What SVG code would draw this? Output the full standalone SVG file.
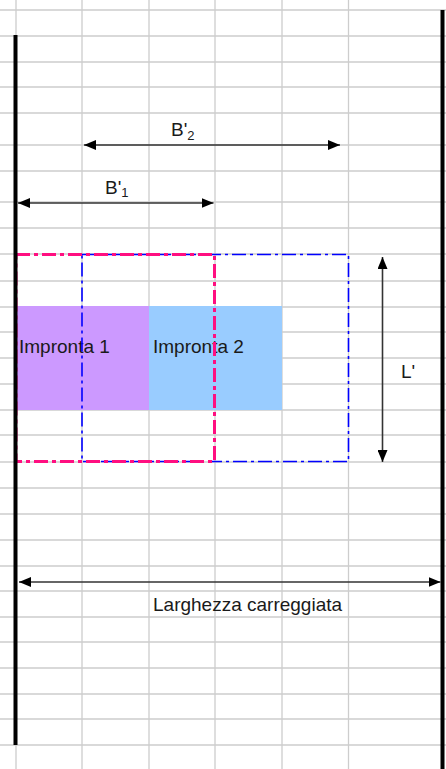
<svg xmlns="http://www.w3.org/2000/svg" width="446" height="769" viewBox="0 0 446 769">
  <style>
    .grid line { stroke: #cdcdcd; stroke-width: 1.3; }
    .edge { stroke: #000; stroke-width: 4; }
    .lbl { font-family: "Liberation Sans", Arial, sans-serif; font-size: 19px; fill: #1a1a1a; }
    .sub { font-size: 13px; }
    .dim { stroke: #333; stroke-width: 1.6; fill: none; marker-start: url(#ah); marker-end: url(#ah); }
    .pink { fill: none; stroke: #ff0f80; stroke-width: 3; stroke-dasharray: 14 4 4 4; }
    .blue { fill: none; stroke: #0000ff; stroke-width: 1.6; stroke-dasharray: 14 4 3 4; }
  </style>
  <defs>
    <marker id="ah" viewBox="0 0 12 10" refX="12" refY="5" markerWidth="12" markerHeight="10" markerUnits="userSpaceOnUse" orient="auto-start-reverse">
      <path d="M0,0 L12,5 L0,10 z" fill="#000"/>
    </marker>
  </defs>
  <rect x="0" y="0" width="446" height="769" fill="#fff"/>
  <g id="grid" class="grid">
    <line x1="16" y1="0" x2="16" y2="769"/>
    <line x1="82" y1="0" x2="82" y2="769"/>
    <line x1="149" y1="0" x2="149" y2="769"/>
    <line x1="215" y1="0" x2="215" y2="769"/>
    <line x1="282" y1="0" x2="282" y2="769"/>
    <line x1="348.5" y1="0" x2="348.5" y2="769"/>
    <line x1="0" y1="10" x2="446" y2="10"/>
    <line x1="0" y1="36" x2="446" y2="36"/>
    <line x1="0" y1="62" x2="446" y2="62"/>
    <line x1="0" y1="87" x2="446" y2="87"/>
    <line x1="0" y1="113" x2="446" y2="113"/>
    <line x1="0" y1="145" x2="446" y2="145"/>
    <line x1="0" y1="171" x2="446" y2="171"/>
    <line x1="0" y1="202" x2="446" y2="202"/>
    <line x1="0" y1="228" x2="446" y2="228"/>
    <line x1="0" y1="254" x2="446" y2="254"/>
    <line x1="0" y1="281" x2="446" y2="281"/>
    <line x1="0" y1="307" x2="446" y2="307"/>
    <line x1="0" y1="332" x2="446" y2="332"/>
    <line x1="0" y1="358" x2="446" y2="358"/>
    <line x1="0" y1="384" x2="446" y2="384"/>
    <line x1="0" y1="410" x2="446" y2="410"/>
    <line x1="0" y1="435" x2="446" y2="435"/>
    <line x1="0" y1="462" x2="446" y2="462"/>
    <line x1="0" y1="488" x2="446" y2="488"/>
    <line x1="0" y1="514" x2="446" y2="514"/>
    <line x1="0" y1="540" x2="446" y2="540"/>
    <line x1="0" y1="566" x2="446" y2="566"/>
    <line x1="0" y1="591" x2="446" y2="591"/>
    <line x1="0" y1="617" x2="446" y2="617"/>
    <line x1="0" y1="642" x2="446" y2="642"/>
    <line x1="0" y1="668" x2="446" y2="668"/>
    <line x1="0" y1="694" x2="446" y2="694"/>
    <line x1="0" y1="719" x2="446" y2="719"/>
    <line x1="0" y1="745" x2="446" y2="745"/>
  </g>
  <g id="impronta-1">
    <rect x="16" y="306" width="133" height="104" fill="#cc99ff"/>
    <text class="lbl" x="19" y="353">Impronta 1</text>
  </g>
  <g id="impronta-2">
    <rect x="149" y="306" width="133" height="104" fill="#99ccff"/>
    <text class="lbl" x="153" y="353">Impronta 2</text>
  </g>
  <g id="area-2">
    <rect class="blue" x="82" y="254.5" width="266.5" height="207"/>
  </g>
  <g id="area-1">
    <rect class="pink" x="16" y="254.5" width="198.5" height="207"/>
  </g>
  <g id="carreggiata">
    <line class="edge" x1="15.5" y1="35" x2="15.5" y2="745"/>
    <line class="edge" x1="442.5" y1="10" x2="442.5" y2="769"/>
  </g>
  <g id="connectors">
    <line class="dim" x1="84" y1="145" x2="340" y2="145"/>
    <line class="dim" x1="18" y1="203" x2="213.5" y2="203"/>
    <line class="dim" x1="382.5" y1="257" x2="382.5" y2="462"/>
    <line class="dim" x1="19" y1="582" x2="440.5" y2="582"/>
  </g>
  <g id="labels">
    <text class="lbl" x="171" y="136">B'<tspan class="sub" dy="3.5">2</tspan></text>
    <text class="lbl" x="105" y="194">B'<tspan class="sub" dy="2.5">1</tspan></text>
    <text class="lbl" x="401" y="378">L'</text>
    <text class="lbl" x="153" y="610.5">Larghezza carreggiata</text>
  </g>
</svg>
